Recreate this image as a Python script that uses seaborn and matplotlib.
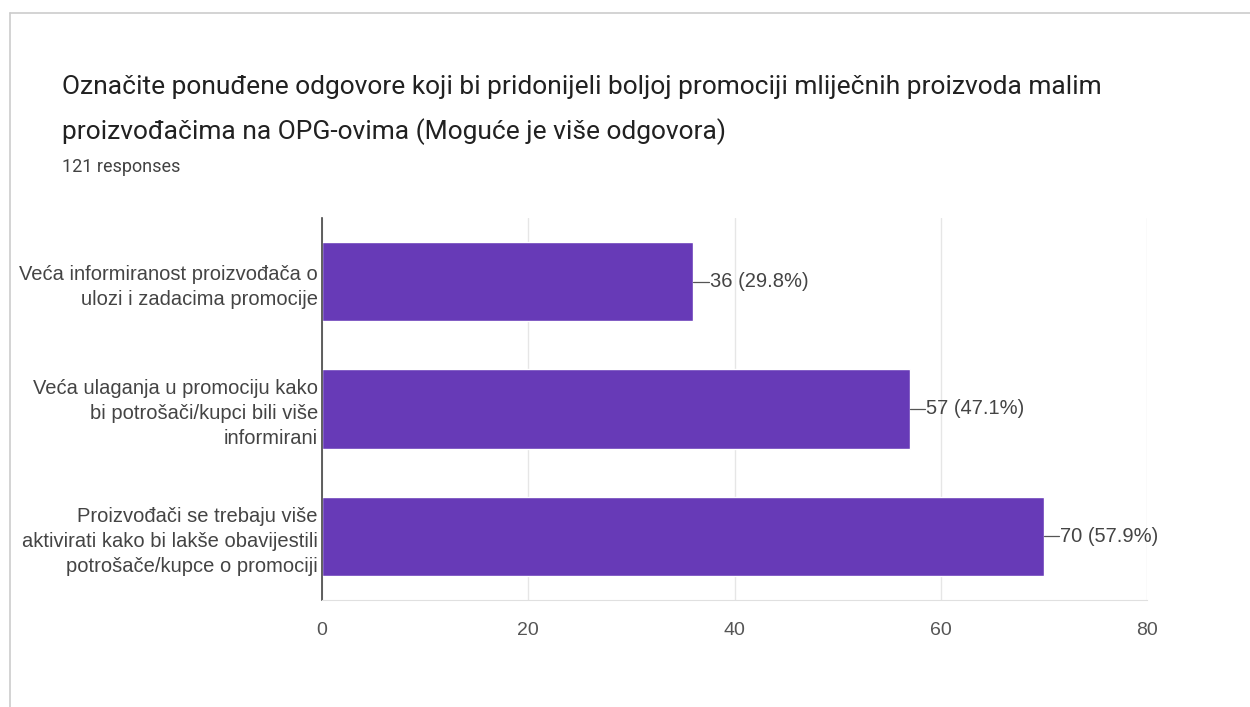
import pandas as pd
import matplotlib.pyplot as plt
import matplotlib.lines as mlines
import seaborn as sns

# Survey data
answers = [
    "Veća informiranost proizvođača o\nulozi i zadacima promocije",
    "Veća ulaganja u promociju kako\nbi potrošači/kupci bili više\ninformirani",
    "Proizvođači se trebaju više\naktivirati kako bi lakše obavijestili\npotrošače/kupce o promociji",
]
counts = [36, 57, 70]
percents = [29.8, 47.1, 57.9]
x_ticks = [0, 20, 40, 60, 80]

title = ("Označite ponuđene odgovore koji bi pridonijeli boljoj promociji mliječnih proizvoda malim\n"
         "proizvođačima na OPG-ovima (Moguće je više odgovora)")
subtitle = "121 responses"

df = pd.DataFrame({"answer": answers, "count": counts})

sns.set_style("white")
plt.rcParams['font.family'] = ['Liberation Sans', 'DejaVu Sans']

fig = plt.figure(figsize=(12.5, 7.07), dpi=100)
ax = fig.add_axes([0.2576, 0.1513, 0.66, 0.5404])

sns.barplot(data=df, x="count", y="answer", orient="h", color="#673AB7",
            saturation=1, width=0.625, ax=ax)

ax.set_xlim(0, 80)
ax.set_ylim(2.5, -0.5)
ax.set_xticks(x_ticks)
ax.set_xlabel("")
ax.set_ylabel("")
ax.set_axisbelow(True)
ax.grid(axis="x", color="#e6e6e6", linewidth=1)

for side in ["top", "right"]:
    ax.spines[side].set_visible(False)
ax.spines["left"].set_color("#444444")
ax.spines["left"].set_linewidth(1.2)
ax.spines["bottom"].set_color("#e0e0e0")

ax.tick_params(axis="x", length=0, pad=16, labelsize=14, labelcolor="#555555")
ax.tick_params(axis="y", length=0, pad=3, labelsize=14.5, labelcolor="#444444")
for lab in ax.get_yticklabels():
    lab.set_linespacing(1.4)

# value labels with short leader lines
for i, (c, p) in enumerate(zip(counts, percents)):
    ax.plot([c, c + 1.5], [i, i], color="#555555", linewidth=0.9)
    ax.text(c + 1.6, i, f"{c} ({p}%)", va="center", ha="left",
            fontsize=14.5, color="#444444")

fig.text(0.0496, 0.844, title, fontsize=19, color="#212121", family=['Roboto', 'DejaVu Sans'],
         va="center", linespacing=1.92)
fig.text(0.0496, 0.7638, subtitle, fontsize=13, color="#424242", family=['Roboto', 'DejaVu Sans'],
         va="center")

# card border
fig.add_artist(mlines.Line2D([0.008, 1.0], [0.9816, 0.9816], color="#cccccc", linewidth=1.2))
fig.add_artist(mlines.Line2D([0.008, 0.008], [0.0, 0.9816], color="#cccccc", linewidth=1.2))

fig.savefig("out.png", dpi=100)
